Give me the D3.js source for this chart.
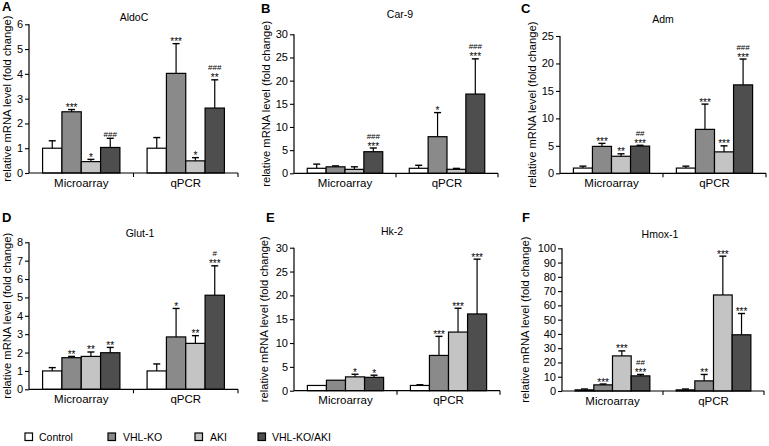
<!DOCTYPE html>
<html><head><meta charset="utf-8">
<script src="https://cdn.jsdelivr.net/npm/d3@7/dist/d3.min.js"></script>
<style>
html,body{margin:0;padding:0;background:#fff;}
svg{display:block;font-family:"Liberation Sans",Arial,Helvetica,sans-serif;}
</style></head>
<body><svg id="c" width="769" height="446"></svg>
<script>
// ---- data ----
const categories = ["Microarray", "qPCR"];
const groups = ["Control", "VHL-KO", "AKI", "VHL-KO/AKI"];
const genes = ["AldoC", "Car-9", "Adm", "Glut-1", "Hk-2", "Hmox-1"];
const panelLetters = ["A", "B", "C", "D", "E", "F"];
const yMax = [6, 30, 25, 8, 30, 100];
const yStep = [1, 5, 5, 1, 5, 10];
const yAxisTitle = "relative mRNA level (fold change)";

const aldocMean = [[1.0, 2.47, 0.46, 1.03], [1.0, 4.02, 0.49, 2.62]];
const aldocSD   = [[0.3, 0.09, 0.09, 0.37], [0.43, 1.2, 0.13, 1.14]];
const aldocStars = [["", "***", "*", ""], ["", "***", "*", "**"]];
const aldocHash  = [["", "", "", "###"], ["", "", "", "###"]];

const car9Mean = [[1.08, 1.4, 0.85, 4.66], [1.08, 7.9, 0.86, 17.1]];
const car9SD   = [[0.9, 0.2, 0.55, 0.8], [0.65, 5.2, 0.2, 7.6]];
const car9Stars = [["", "", "", "***"], ["", "*", "", "***"]];
const car9Hash  = [["", "", "", "###"], ["", "", "", "###"]];

const admMean = [[0.95, 4.9, 3.1, 4.95], [0.95, 8.0, 3.9, 16.1]];
const admSD   = [[0.35, 0.55, 0.45, 0.15], [0.35, 4.6, 1.1, 4.7]];
const admStars = [["", "***", "**", "***"], ["", "***", "***", "***"]];
const admHash  = [["", "", "", "##"], ["", "", "", "###"]];

const glutMean = [[1.0, 1.72, 1.79, 1.99], [1.0, 2.85, 2.5, 5.12]];
const glutSD   = [[0.18, 0.07, 0.24, 0.29], [0.38, 1.55, 0.42, 1.6]];
const glutStars = [["", "**", "**", "**"], ["", "*", "**", "***"]];
const glutHash  = [["", "", "", ""], ["", "", "", "#"]];

const hk2Mean = [[1.1, 2.2, 2.9, 2.8], [1.1, 7.4, 12.3, 16.1]];
const hk2SD   = [[0, 0, 0.55, 0.45], [0.15, 4.0, 5.0, 11.5]];
const hk2Stars = [["", "", "*", "*"], ["", "***", "***", "***"]];
const hk2Hash  = [["", "", "", ""], ["", "", "", ""]];

const hmoxMean = [[0.8, 4.3, 24.6, 10.6], [0.8, 7.1, 67.3, 39.4]];
const hmoxSD   = [[0.6, 0.6, 3.5, 1.0], [0.6, 4.5, 27.2, 14.9]];
const hmoxStars = [["", "***", "***", "***"], ["", "**", "***", "***"]];
const hmoxHash  = [["", "", "", "##"], ["", "", "", ""]];

const means = [aldocMean, car9Mean, admMean, glutMean, hk2Mean, hmoxMean];
const sds = [aldocSD, car9SD, admSD, glutSD, hk2SD, hmoxSD];
const stars = [aldocStars, car9Stars, admStars, glutStars, hk2Stars, hmoxStars];
const hashes = [aldocHash, car9Hash, admHash, glutHash, hk2Hash, hmoxHash];

// ---- styles / layout ----
const fills = ["#ffffff", "#8a8a8a", "#c4c4c4", "#4e4e4e"];
const layout = [
  {x0:29,  x1:238, yTop:24.3,  yBot:173,   titleX:134, titleY:21,  letterX:2,   letterY:11,  ylabX:7},
  {x0:294, x1:498, yTop:34.3,  yBot:173.3, titleX:400, titleY:18,  letterX:261, letterY:13,  ylabX:266},
  {x0:560, x1:766, yTop:36,    yBot:173.3, titleX:663, titleY:23,  letterX:521, letterY:13,  ylabX:532},
  {x0:29,  x1:238, yTop:242.3, yBot:389.3, titleX:140, titleY:237, letterX:2,   letterY:222, ylabX:7},
  {x0:294, x1:500, yTop:247.7, yBot:390.7, titleX:392, titleY:235, letterX:266, letterY:222, ylabX:264},
  {x0:562, x1:764, yTop:248.3, yBot:391,   titleX:660, titleY:238, letterX:522, letterY:222, ylabX:525}
];
const legendPos = [{box:25, text:39}, {box:108, text:123}, {box:195, text:210}, {box:258, text:272}];

const svg = d3.select("#c");

genes.forEach((gene, p) => {
  const L = layout[p];
  const g = svg.append("g");
  const x = d3.scaleBand().domain(categories).range([L.x0, L.x1]).paddingInner(0.26).paddingOuter(0.13);
  const xs = d3.scaleBand().domain(groups).range([0, x.bandwidth()]);
  const y = d3.scaleLinear().domain([0, yMax[p]]).range([L.yBot, L.yTop]);

  // bars
  categories.forEach((cat, ci) => {
    groups.forEach((grp, gi) => {
      const m = means[p][ci][gi], s = sds[p][ci][gi];
      const bx = x(cat) + xs(grp);
      const bw = xs.bandwidth();
      const cx = bx + bw / 2;
      if (s > 0) {
        g.append("line").attr("x1", cx).attr("x2", cx).attr("y1", y(m)).attr("y2", y(m + s))
          .attr("stroke", "#000").attr("stroke-width", 1.2);
        g.append("line").attr("x1", cx - 3.5).attr("x2", cx + 3.5).attr("y1", y(m + s)).attr("y2", y(m + s))
          .attr("stroke", "#000").attr("stroke-width", 1.4);
      }
      g.append("rect").attr("x", bx).attr("y", y(m)).attr("width", bw).attr("height", y(0) - y(m))
        .attr("fill", fills[gi]).attr("stroke", "#000").attr("stroke-width", 1.2);
      let base = y(m + s) - 1.5;
      const st = stars[p][ci][gi], hs = hashes[p][ci][gi];
      if (st) {
        g.append("text").attr("x", cx).attr("y", base + 3).attr("text-anchor", "middle")
          .attr("font-size", 10).attr("fill", "#000").text(st);
        base -= 8;
      }
      if (hs) {
        g.append("text").attr("x", cx).attr("y", base).attr("text-anchor", "middle")
          .attr("font-size", 8).attr("fill", "#000").text(hs);
      }
    });
  });

  // y axis
  const yAxis = d3.axisLeft(y).tickValues(d3.range(0, yMax[p] + yStep[p] / 2, yStep[p]))
    .tickSize(4).tickPadding(2).tickFormat(d3.format("d"));
  const ya = g.append("g").attr("transform", `translate(${L.x0},0)`).call(yAxis);
  ya.select(".domain").attr("d", `M-0,${L.yTop}V${L.yBot}`).attr("stroke-width", 1.2);
  ya.selectAll("text").attr("font-size", 11).attr("font-family", null).attr("fill", "#000");
  ya.selectAll(".tick line").attr("stroke-width", 1.1);

  // x axis line with ticks at band boundaries
  g.append("line").attr("x1", L.x0).attr("x2", L.x1).attr("y1", L.yBot).attr("y2", L.yBot)
    .attr("stroke", "#000").attr("stroke-width", 1.2);
  const bounds = [x.step() * 1 + L.x0, L.x1];
  bounds.forEach(bx => {
    g.append("line").attr("x1", bx).attr("x2", bx).attr("y1", L.yBot).attr("y2", L.yBot + 4)
      .attr("stroke", "#000").attr("stroke-width", 1.1);
  });
  categories.forEach(cat => {
    g.append("text").attr("x", x(cat) + x.bandwidth() / 2).attr("y", L.yBot + 13.5)
      .attr("text-anchor", "middle").attr("font-size", 11.5).attr("fill", "#000").text(cat);
  });

  // title, letter, y label
  g.append("text").attr("x", L.titleX).attr("y", L.titleY).attr("text-anchor", "middle")
    .attr("font-size", 10.5).attr("fill", "#000").text(gene);
  g.append("text").attr("x", L.letterX).attr("y", L.letterY).attr("font-size", 13)
    .attr("font-weight", "bold").attr("fill", "#000").text(panelLetters[p]);
  g.append("text").attr("transform", `translate(${L.ylabX},${(L.yTop + L.yBot) / 2}) rotate(-90)`)
    .attr("text-anchor", "middle").attr("dominant-baseline", "central")
    .attr("font-size", 11.2).attr("fill", "#000").text(yAxisTitle);
});

// legend
const lg = svg.append("g");
groups.forEach((grp, i) => {
  lg.append("rect").attr("x", legendPos[i].box).attr("y", 433).attr("width", 7.5).attr("height", 7.5)
    .attr("fill", fills[i]).attr("stroke", "#000").attr("stroke-width", 1.2);
  lg.append("text").attr("x", legendPos[i].text).attr("y", 441).attr("font-size", 10.5)
    .attr("fill", "#000").text(grp);
});
</script></body></html>
